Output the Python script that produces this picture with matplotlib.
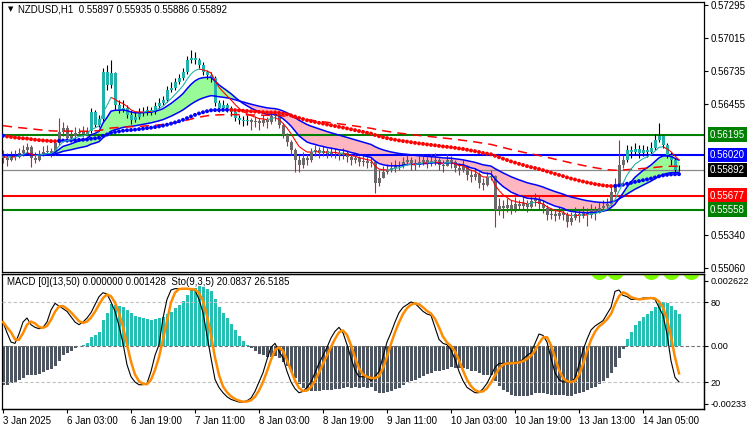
import numpy as np
import pandas as pd
import matplotlib
matplotlib.use("Agg")
import matplotlib.pyplot as plt
from matplotlib.collections import LineCollection

plt.rcParams['font.family'] = ['Liberation Sans', 'DejaVu Sans']

# ---- data (NZDUSD H1) ----
title = "NZDUSD,H1  0.55897 0.55935 0.55886 0.55892"
ind_title = "MACD [0](13,50) 0.000000 0.001428  Sto(9,3,5) 20.0837 26.5185"

first_open = 0.56020
closes = [
    0.55995, 0.55978, 0.56020, 0.56003, 0.56037, 0.56063, 0.56088, 0.55995, 0.55978, 0.56029,
    0.56046, 0.56054, 0.56037, 0.56122, 0.56216, 0.56250, 0.56165, 0.56182, 0.56207, 0.56216,
    0.56199, 0.56224, 0.56386, 0.56275, 0.56326, 0.56726, 0.56615, 0.56717, 0.56445, 0.56403,
    0.56420, 0.56360, 0.56318, 0.56343, 0.56377, 0.56386, 0.56403, 0.56386, 0.56437, 0.56462,
    0.56488, 0.56573, 0.56590, 0.56641, 0.56675, 0.56726, 0.56828, 0.56845, 0.56828, 0.56785,
    0.56726, 0.56700, 0.56675, 0.56462, 0.56420, 0.56445, 0.56420, 0.56386, 0.56335, 0.56318,
    0.56309, 0.56318, 0.56301, 0.56309, 0.56292, 0.56318, 0.56301, 0.56352, 0.56369, 0.56275,
    0.56190, 0.56131, 0.56063, 0.55978, 0.55935, 0.55995, 0.55978, 0.56046, 0.56063, 0.56037,
    0.56054, 0.56029, 0.56046, 0.56037, 0.56020, 0.56037, 0.56003, 0.55978, 0.55995, 0.55961,
    0.55969, 0.55952, 0.55961, 0.55782, 0.55825, 0.55876, 0.55893, 0.55910, 0.55935, 0.55927,
    0.55961, 0.55978, 0.55952, 0.55935, 0.55961, 0.55978, 0.55952, 0.55969, 0.55978, 0.55935,
    0.55927, 0.55978, 0.55961, 0.55910, 0.55893, 0.55927, 0.55850, 0.55833, 0.55859, 0.55782,
    0.55765, 0.55833, 0.55842, 0.55553, 0.55587, 0.55570, 0.55595, 0.55561, 0.55604, 0.55587,
    0.55612, 0.55578, 0.55629, 0.55646, 0.55604, 0.55570, 0.55510, 0.55519, 0.55502, 0.55527,
    0.55510, 0.55451, 0.55485, 0.55519, 0.55502, 0.55527, 0.55510, 0.55553, 0.55527, 0.55570,
    0.55587, 0.55604, 0.55706, 0.55774, 0.55935, 0.55978, 0.56063, 0.56046, 0.56071, 0.56037,
    0.56063, 0.56046, 0.56080, 0.56148, 0.56182, 0.56105, 0.56020, 0.55978, 0.55897, 0.55892,
]
highs = [
    0.56063, 0.56037, 0.56054, 0.56063, 0.56080, 0.56105, 0.56122, 0.56105, 0.56046, 0.56063,
    0.56097, 0.56105, 0.56080, 0.56139, 0.56335, 0.56301, 0.56275, 0.56233, 0.56258, 0.56250,
    0.56267, 0.56258, 0.56420, 0.56403, 0.56360, 0.56760, 0.56785, 0.56828, 0.56726, 0.56488,
    0.56488, 0.56445, 0.56403, 0.56386, 0.56420, 0.56428, 0.56437, 0.56428, 0.56471, 0.56505,
    0.56522, 0.56607, 0.56641, 0.56675, 0.56709, 0.56760, 0.56862, 0.56913, 0.56896, 0.56845,
    0.56811, 0.56743, 0.56726, 0.56692, 0.56488, 0.56488, 0.56462, 0.56437, 0.56403, 0.56360,
    0.56352, 0.56360, 0.56335, 0.56352, 0.56335, 0.56360, 0.56343, 0.56386, 0.56403, 0.56386,
    0.56292, 0.56207, 0.56148, 0.56080, 0.56020, 0.56046, 0.56029, 0.56080, 0.56105, 0.56088,
    0.56097, 0.56080, 0.56088, 0.56080, 0.56063, 0.56080, 0.56063, 0.56029, 0.56037, 0.56012,
    0.56020, 0.56003, 0.56003, 0.55978, 0.55893, 0.55927, 0.55944, 0.55961, 0.55978, 0.55969,
    0.56003, 0.56020, 0.56003, 0.55986, 0.56012, 0.56029, 0.56003, 0.56029, 0.56037, 0.55995,
    0.55978, 0.56029, 0.56012, 0.55978, 0.55952, 0.55978, 0.55935, 0.55893, 0.55910, 0.55876,
    0.55825, 0.55876, 0.55893, 0.55850, 0.55655, 0.55638, 0.55655, 0.55638, 0.55663, 0.55638,
    0.55672, 0.55638, 0.55680, 0.55697, 0.55672, 0.55638, 0.55595, 0.55570, 0.55553, 0.55578,
    0.55561, 0.55536, 0.55536, 0.55578, 0.55553, 0.55587, 0.55570, 0.55604, 0.55587, 0.55621,
    0.55638, 0.55655, 0.55765, 0.55825, 0.56148, 0.56020, 0.56105, 0.56097, 0.56122, 0.56105,
    0.56105, 0.56097, 0.56131, 0.56199, 0.56292, 0.56190, 0.56122, 0.56046, 0.55995, 0.55935,
]
lows = [
    0.55952, 0.55927, 0.55969, 0.55978, 0.55995, 0.56012, 0.56037, 0.55918, 0.55952, 0.55969,
    0.56012, 0.56029, 0.56003, 0.56020, 0.56105, 0.56182, 0.56131, 0.56131, 0.56156, 0.56182,
    0.56173, 0.56182, 0.56207, 0.56258, 0.56258, 0.56309, 0.56573, 0.56590, 0.56403, 0.56377,
    0.56386, 0.56335, 0.56284, 0.56301, 0.56326, 0.56352, 0.56360, 0.56360, 0.56369, 0.56420,
    0.56445, 0.56471, 0.56556, 0.56573, 0.56624, 0.56658, 0.56709, 0.56802, 0.56794, 0.56760,
    0.56700, 0.56666, 0.56641, 0.56437, 0.56386, 0.56403, 0.56386, 0.56352, 0.56309, 0.56284,
    0.56267, 0.56275, 0.56233, 0.56258, 0.56233, 0.56267, 0.56250, 0.56284, 0.56309, 0.56250,
    0.56165, 0.56097, 0.56020, 0.55876, 0.55876, 0.55910, 0.55935, 0.55961, 0.56012, 0.55995,
    0.56012, 0.55995, 0.56003, 0.55995, 0.55978, 0.55986, 0.55961, 0.55935, 0.55952, 0.55927,
    0.55927, 0.55910, 0.55918, 0.55697, 0.55757, 0.55825, 0.55859, 0.55876, 0.55876, 0.55893,
    0.55910, 0.55935, 0.55893, 0.55893, 0.55918, 0.55935, 0.55910, 0.55927, 0.55935, 0.55893,
    0.55876, 0.55927, 0.55910, 0.55876, 0.55850, 0.55876, 0.55808, 0.55791, 0.55808, 0.55740,
    0.55723, 0.55757, 0.55808, 0.55408, 0.55510, 0.55485, 0.55536, 0.55519, 0.55536, 0.55553,
    0.55561, 0.55536, 0.55570, 0.55587, 0.55561, 0.55527, 0.55468, 0.55476, 0.55459, 0.55476,
    0.55468, 0.55408, 0.55425, 0.55468, 0.55451, 0.55485, 0.55417, 0.55485, 0.55468, 0.55527,
    0.55544, 0.55570, 0.55595, 0.55689, 0.55757, 0.55910, 0.55961, 0.55995, 0.56020, 0.55995,
    0.56012, 0.56003, 0.56029, 0.56063, 0.56131, 0.56080, 0.55995, 0.55935, 0.55876, 0.55886,
]
# bars painted in the "up" colour scheme (first, last bar index)
trend_up = [(22, 61), (156, 169)]

# stochastic main line (%K), read per bar
stoch_main = [
    65, 57, 50, 49, 56, 65, 68, 63, 61, 60,
    61, 65, 74, 79, 77, 75, 73, 69, 65, 63,
    65, 68, 72, 78, 84, 87, 86, 80, 73, 62,
    49, 33, 24, 20, 18, 18, 19, 28, 40, 48,
    68, 82, 89, 90, 90, 90, 90, 89, 89, 82,
    72, 55, 38, 22, 16, 12, 9, 7, 6, 5,
    5, 6, 8, 13, 20, 27, 37, 46, 49, 43,
    38, 28, 20, 15, 12, 13, 16, 20, 27, 34,
    40, 46, 53, 58, 61, 57, 48, 38, 29, 24,
    24, 24, 21, 24, 28, 39, 50, 57, 65, 72,
    76, 78, 80, 79, 76, 73, 71, 70, 61, 52,
    49, 48, 44, 37, 28, 21, 16, 14, 12, 12,
    15, 19, 25, 31, 34, 34, 34, 34, 35, 35,
    37, 40, 42, 49, 56, 55, 50, 38, 27, 22,
    20, 20, 20, 23, 33, 44, 52, 59, 62, 64,
    66, 71, 76, 88, 89, 85, 84, 82, 82, 82,
    83, 83, 83, 82, 76, 70, 56, 36, 23.5, 20.08,
]

# moving-average values at the first visible bar (history before the window)
seed_fast = 0.56012
seed_ema13 = 0.56029
seed_ema34 = 0.56020
seed_ema50 = 0.56190
seed_dots = 0.56190
seed_slow = 0.56275

level_prices = [0.56195, 0.56020, 0.55892, 0.55677, 0.55558]
level_colors = ['#008000', '#0000ff', '#8a8a8a', '#ff0000', '#008000']
level_box = ['#008000', '#0000ff', '#000000', '#ff0000', '#008000']
price_ticks = [0.57295, 0.57015, 0.56735, 0.56455, 0.55340, 0.55060]
time_labels = ['3 Jan 2025', '6 Jan 03:00', '6 Jan 19:00', '7 Jan 11:00', '8 Jan 03:00',
               '8 Jan 19:00', '9 Jan 11:00', '10 Jan 03:00', '10 Jan 19:00',
               '13 Jan 13:00', '14 Jan 05:00']
arrow_bars = [149, 153, 162, 167, 172]


def ema(values, span, seed):
    s = pd.Series([seed] + list(values)).ewm(span=span, adjust=False).mean()
    return s.iloc[1:].to_numpy()


closes = np.array(closes)
n = len(closes)
x = np.arange(n)
opens = np.r_[first_open, closes[:-1]]
highs = np.maximum(np.array(highs), np.maximum(opens, closes))
lows = np.minimum(np.array(lows), np.minimum(opens, closes))

fast = ema(closes, 7, seed_fast)
ema13 = ema(closes, 13, seed_ema13)
ema34 = ema(closes, 34, seed_ema34)
ema50 = ema(closes, 50, seed_ema50)
dots = ema(closes, 70, seed_dots)
slow = ema(closes, 120, seed_slow)
macd = ema13 - ema50
stoch_sig = pd.Series(stoch_main).rolling(3, min_periods=1).mean().to_numpy()

W, H = 750, 430
fig = plt.figure(figsize=(7.5, 4.3), dpi=100)


def rect(x0, y0, x1, y1):
    return [x0 / W, 1 - y1 / H, (x1 - x0) / W, (y1 - y0) / H]


ax = fig.add_axes(rect(2, 2, 704, 272))
ax2 = fig.add_axes(rect(2, 274, 704, 409), sharex=ax)
ax3 = ax2.twinx()

ax.set_xlim(-0.25, 175.25)
ax.set_ylim(0.55028, 0.57320)

# band between the two blue averages
ax.fill_between(x, ema13, ema34, where=ema13 >= ema34, interpolate=True,
                color='#98fb98', lw=0, zorder=1)
ax.fill_between(x, ema13, ema34, where=ema13 < ema34, interpolate=True,
                color='#ffb6c1', lw=0, zorder=1)

for p, c in zip(level_prices, level_colors):
    ax.axhline(p, color=c, lw=0.9 if c == '#8a8a8a' else 1.5, zorder=2)

# candles
up = np.zeros(n, bool)
for a, b in trend_up:
    up[a:b + 1] = True
body_col = np.where(up, '#20b2aa', '#696969')
wick_col = np.where(up, '#000000', '#dc143c')
ax.vlines(x, lows, highs, colors=wick_col, lw=0.8, zorder=3)
ax.bar(x, np.maximum(np.abs(closes - opens), 0.00001), bottom=np.minimum(opens, closes),
       width=0.75, color=body_col, lw=0, zorder=4)

ax.plot(x, ema13, color='#0000ff', lw=1.1, zorder=5)
ax.plot(x, ema34, color='#0000ff', lw=1.1, zorder=5)
ax.plot(x, slow, color='#ff0000', lw=1.1, dashes=(6, 4), zorder=5)

rising = np.r_[True, np.diff(dots) >= 0]
ax.scatter(x, dots, s=8, marker='o', lw=0, zorder=6,
           c=np.where(rising, '#0000ff', '#ff0000'))

segs = np.stack([np.c_[x[:-1], fast[:-1]], np.c_[x[1:], fast[1:]]], axis=1)
seg_col = np.where(np.diff(fast) >= 0, '#20b2aa', '#ff0000')
ax.add_collection(LineCollection(segs, colors=seg_col, lw=0.8, zorder=6))

ax.yaxis.tick_right()
ax.set_yticks(price_ticks)
ax.set_yticklabels([f'{p:.5f}' for p in price_ticks])
ax.tick_params(axis='y', length=3, width=0.8, pad=2, labelsize=7)
ax.tick_params(axis='x', length=0, labelbottom=False)
for p, c in zip(level_prices, level_box):
    ax.text(1.0085, p, f'{p:.5f}', transform=ax.get_yaxis_transform(), color='white',
            fontsize=7, va='center', ha='left', clip_on=False,
            bbox=dict(boxstyle='square,pad=0.22', fc=c, ec='none'))

fig.text(8 / W, 1 - 9.5 / H, '\u25bc', fontsize=5, va='center', family='DejaVu Sans')
fig.text(18 / W, 1 - 9.5 / H, title, fontsize=7, va='center')

# indicator window: MACD histogram + stochastic
ax2.set_ylim(-0.00254, 0.0029)
ax2.bar(x, macd, width=0.75, lw=0, color=np.where(macd > 0, '#26bfb4', '#4d5560'))
ax2.axhline(0, color='#707070', lw=0.8, dashes=(3, 2))
ax2.scatter(arrow_bars, [0.00302] * len(arrow_bars), s=150, color='#7cfc00', lw=0,
            clip_on=True, zorder=3)
ax2.yaxis.tick_right()
ax2.set_yticks([-0.00233, 0, 0.002622])
ax2.set_yticklabels(['-0.00233', '0.00', '0.002622'])
ax2.tick_params(axis='y', length=3, width=0.8, pad=2, labelsize=6.6)

ax3.set_ylim(-0.2, 101)
ax3.axhline(80, color='#c0c0c0', lw=0.8, dashes=(3, 2))
ax3.axhline(20, color='#c0c0c0', lw=0.8, dashes=(3, 2))
ax3.plot(x, stoch_main, color='black', lw=0.8)
ax3.plot(x, stoch_sig, color='#ff8c00', lw=1.8)
ax3.set_yticks([20, 80])
ax3.set_yticklabels(['20', '80'])
ax3.tick_params(axis='y', length=3, width=0.8, pad=2, labelsize=6.6)

ax2.set_xticks(x[::16])
ax2.set_xticklabels(time_labels, ha='left')
ax2.tick_params(axis='x', length=3, width=0.8, pad=2, labelsize=7)
ax2.text(0.007, 0.94, ind_title, transform=ax2.transAxes, fontsize=7, va='center')

for a in (ax, ax2, ax3):
    for s in a.spines.values():
        s.set_linewidth(0.9)
ax3.spines['left'].set_visible(False)

fig.savefig('out.png', dpi=100)
